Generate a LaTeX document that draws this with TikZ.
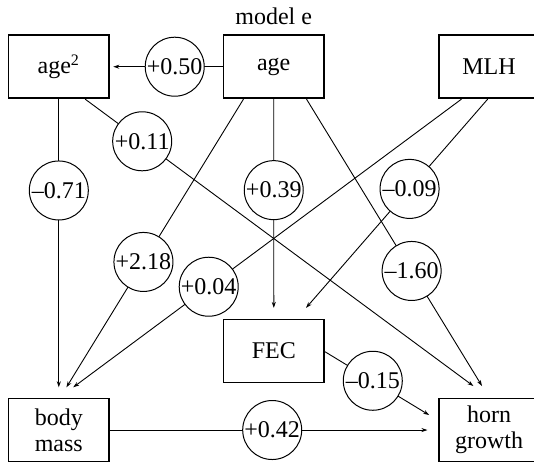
\documentclass[tikz,border=0pt]{standalone}
\usepackage{fontspec}
\setmainfont{Liberation Serif}
\usetikzlibrary{calc,positioning,arrows.meta}
\tikzset {>={Stealth[length=3pt,width=2pt]}}
\tikzset{
  var/.style={draw,line width=.9pt,minimum width=50.25pt,minimum height=31.5pt,inner sep=0pt,align=center},
  coef/.style={draw,circle,fill=white,line width=.5pt,minimum size=29.5pt,inner sep=0pt},
  link/.style={line width=.45pt,->}
}

\begin{document}
\begin{tikzpicture}[x=.5pt,y=-.5pt,font=\fontsize{12}{13}\selectfont]
\useasboundingbox (0,0) rectangle (534,463);
\node[var] (age2) at (58.8,66.7) {age\textsuperscript{2}};
\node[var] (age) at (273.7,66.7) {age};
\node[var] (mlh) at (489,66.7) {MLH};
\node[var] (fec) at (273.8,351) {FEC};
\node[var] (body) at (58.8,430) {body\\mass};
\node[var] (horn) at (489,430) {horn\\growth};
\node[inner sep=0pt,above=4.5pt of age] (title) {model e};

\draw[link] (age.west) -- node[coef,pos=.438] (c050) {+0.50} ($(age2.east)+(3.4,0)$);
\draw[link] ($(age2.south)+(26.3,0)$) -- node[coef,pos=.147] (c011) {+0.11} ($(horn.north)+(-15.6,-11.6)$);
\draw[link] (age2.south) -- node[coef,pos=.317] (c071) {--0.71} ($(body.north)+(0,-10.3)$);
\draw[link] ($(age.south)+(-30.2,0)$) -- node[coef,pos=.565] (c218) {+2.18} ($(body.north)+(7.6,-10.3)$);
\draw[link] (age.south) -- node[coef,pos=.436] (c039) {+0.39} ($(fec.north)+(0,-10.7)$);
\draw[link] ($(age.south)+(32.8,0)$) -- node[coef,pos=.599] (c160) {--1.60} ($(horn.north)+(-7,-11.6)$);
\draw[link] ($(mlh.south)+(-27.5,0)$) -- node[coef,pos=.651] (c004) {+0.04} ($(body.north)+(14.4,-10.3)$);
\draw[link] ($(mlh.south)+(-1.3,0)$) -- node[coef,pos=.43] (c009) {--0.09} ($(fec.north)+(32.2,-10.7)$);
\draw[link] ($(fec.east)+(0,.7)$) -- node[coef,pos=.459] (c015) {--0.15} ($(horn.west)+(-8.7,-15)$);
\draw[link] (body.east) -- node[coef,pos=.511] (c042) {+0.42} ($(horn.west)+(-10.4,0)$);
\end{tikzpicture}
\end{document}
